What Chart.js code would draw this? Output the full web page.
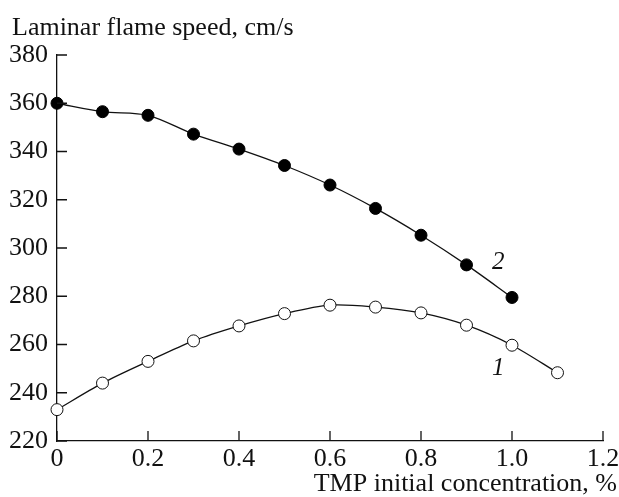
<!DOCTYPE html>
<html>
<head>
<meta charset="utf-8">
<script src="https://cdn.jsdelivr.net/npm/chart.js@4/dist/chart.umd.min.js"></script>
<style>
  html, body { margin: 0; padding: 0; background: #fff; }
  #wrap { width: 619px; height: 497px; }
</style>
</head>
<body>
<div id="wrap"><canvas id="chart"></canvas></div>
<script>
// Данные графика
const conc1 = [0, 0.1, 0.2, 0.3, 0.4, 0.5, 0.6, 0.7, 0.8, 0.9, 1.0, 1.1];
const speed1 = [233, 244, 253, 261.5, 267.7, 272.8, 276.3, 275.5, 273.1, 268, 259.7, 248.3];
const conc2 = [0, 0.1, 0.2, 0.3, 0.4, 0.5, 0.6, 0.7, 0.8, 0.9, 1.0];
const speed2 = [360, 356.5, 355, 347.2, 341, 334.2, 326.1, 316.4, 305.3, 293, 279.5];
const xTicks = [0, 0.2, 0.4, 0.6, 0.8, 1.0, 1.2];
const yTicks = [220, 240, 260, 280, 300, 320, 340, 360, 380];
const curveLabels = [
  { text: '1', x: 0.97, y: 250 },
  { text: '2', x: 0.97, y: 294 }
];

const FONT = '"Liberation Serif", "DejaVu Serif", serif';

// Подписи осей, номера кривых и засечки внутрь
const extras = {
  id: 'extras',
  afterDraw(chart) {
    const ctx = chart.ctx;
    const xs = chart.scales.x;
    const ys = chart.scales.y;
    const area = chart.chartArea;
    ctx.save();
    ctx.strokeStyle = '#111';
    ctx.lineWidth = 1.3;
    ctx.beginPath();
    xTicks.forEach(v => {
      const px = xs.getPixelForValue(v);
      ctx.moveTo(px, area.bottom);
      ctx.lineTo(px, area.bottom - 10);
    });
    yTicks.forEach(v => {
      const py = ys.getPixelForValue(v);
      ctx.moveTo(area.left, py);
      ctx.lineTo(area.left + 10, py);
    });
    ctx.stroke();

    ctx.fillStyle = '#111';
    ctx.font = '26px ' + FONT;
    ctx.textBaseline = 'alphabetic';
    ctx.textAlign = 'left';
    ctx.fillText('Laminar flame speed, cm/s', 12, 35);
    ctx.textAlign = 'right';
    ctx.fillText('TMP initial concentration, %', chart.width - 2, 491);

    ctx.font = 'italic 25px ' + FONT;
    ctx.textAlign = 'center';
    ctx.textBaseline = 'middle';
    curveLabels.forEach(l => {
      ctx.fillText(l.text, xs.getPixelForValue(l.x), ys.getPixelForValue(l.y));
    });
    ctx.restore();
  }
};

new Chart(document.getElementById('chart'), {
  type: 'line',
  data: {
    datasets: [
      {
        label: '1',
        data: conc1.map((c, i) => ({ x: c, y: speed1[i] })),
        borderColor: '#111',
        borderWidth: 1.3,
        backgroundColor: '#fff',
        pointBackgroundColor: '#fff',
        pointBorderColor: '#111',
        pointBorderWidth: 1,
        pointRadius: 6,
        tension: 0.3,
        clip: false
      },
      {
        label: '2',
        data: conc2.map((c, i) => ({ x: c, y: speed2[i] })),
        borderColor: '#111',
        borderWidth: 1.3,
        backgroundColor: '#000',
        pointBackgroundColor: '#000',
        pointBorderColor: '#000',
        pointBorderWidth: 1,
        pointRadius: 6,
        tension: 0.3,
        clip: false
      }
    ]
  },
  options: {
    responsive: true,
    maintainAspectRatio: false,
    animation: false,
    layout: { padding: { top: 55, right: 16, left: 0, bottom: 0 } },
    plugins: {
      legend: { display: false },
      tooltip: { enabled: false }
    },
    scales: {
      x: {
        type: 'linear',
        min: 0,
        max: 1.2,
        afterBuildTicks: axis => { axis.ticks = xTicks.map(v => ({ value: v })); },
        afterFit: axis => { axis.height = 56; },
        grid: { display: false },
        border: { display: true, color: '#111', width: 1.3 },
        ticks: {
          color: '#111',
          padding: -5,
          maxRotation: 0,
          font: { family: FONT, size: 26 },
          callback: v => (v === 0 ? '0' : (v === 1 ? '1.0' : String(v)))
        }
      },
      y: {
        min: 220,
        max: 380,
        afterBuildTicks: axis => { axis.ticks = yTicks.map(v => ({ value: v })); },
        afterFit: axis => { axis.width = 57; },
        grid: { display: false },
        border: { display: true, color: '#111', width: 1.3 },
        ticks: {
          color: '#111',
          padding: 1,
          font: { family: FONT, size: 26 }
        }
      }
    }
  },
  plugins: [extras]
});
</script>
</body>
</html>
